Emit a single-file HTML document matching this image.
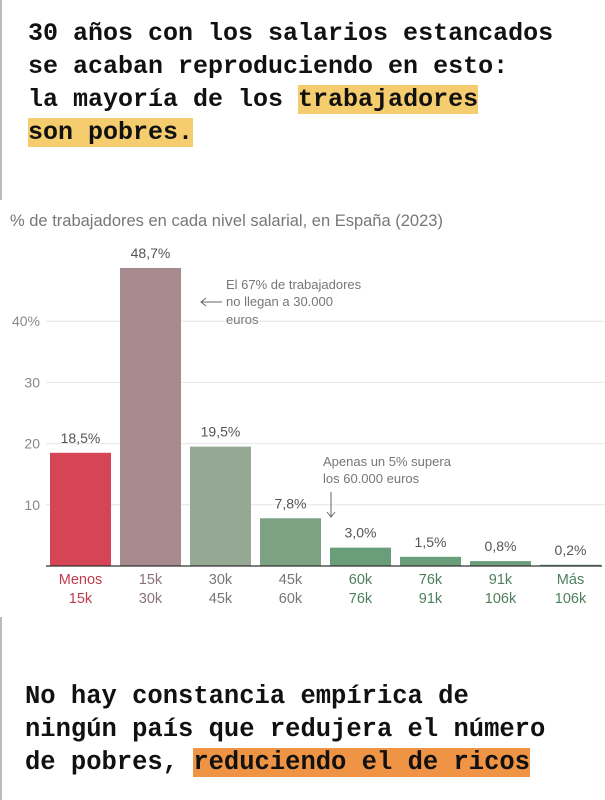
<!DOCTYPE html>
<html><head><meta charset="utf-8">
<style>
body{margin:0;width:605px;height:800px;background:#fff;position:relative;overflow:hidden;font-family:"Liberation Sans",sans-serif}
.big{position:absolute;font-family:"Liberation Mono",monospace;font-weight:bold;color:#111;white-space:pre}
.hy{background:#f5cd6e}
.ho{background:#ef9344}
</style></head>
<body>
<div style="position:absolute;left:0;top:0;width:2px;height:200px;background:#bbb"></div>
<div style="position:absolute;left:0;top:617px;width:2px;height:183px;background:#bbb"></div>
<div class="big" style="left:28px;top:17px;font-size:25px;line-height:33px">30 años con los salarios estancados
se acaban reproduciendo en esto:
la mayoría de los <span class="hy">trabajadores</span>
<span class="hy">son pobres.</span></div>
<div style="position:absolute;left:10px;top:212px;font-size:16.5px;color:#777">% de trabajadores en cada nivel salarial, en España (2023)</div>
<svg width="605" height="620" style="position:absolute;left:0;top:0" id="chart"></svg>
<div class="big" style="left:25px;top:680px;font-size:25.5px;line-height:33px">No hay constancia empírica de
ningún país que redujera el número
de pobres, <span class="ho">reduciendo el de ricos</span></div>
<script>
const categories1=["Menos","15k","30k","45k","60k","76k","91k","Más"];
const categories2=["15k","30k","45k","60k","76k","91k","106k","106k"];
const values=[18.5,48.7,19.5,7.8,3.0,1.5,0.8,0.2];
const valueLabels=["18,5%","48,7%","19,5%","7,8%","3,0%","1,5%","0,8%","0,2%"];
const ticks=[10,20,30,40];
const tickLabels=["10","20","30","40%"];
const barColors=["#d64555","#a68a8e","#94a893","#7ca283","#6a9d79","#6a9d79","#6a9d79","#5f9470"];
const labelColors=["#c23b4c","#8c7478","#777","#777","#4e7f5d","#4e7f5d","#4e7f5d","#4e7f5d"];
const NS="http://www.w3.org/2000/svg";
const svg=document.getElementById('chart');
const y0=566,pxPer=6.12,x0=50,step=70,bw=61;
const y=v=>y0-v*pxPer, x=i=>x0+i*step;
function mk(t,a,txt){const e=document.createElementNS(NS,t);for(const k in a)e.setAttribute(k,a[k]);if(txt!==undefined)e.textContent=txt;svg.appendChild(e);return e;}
ticks.forEach((t,i)=>{
 const g=mk('line',{x1:46,x2:605,y1:y(t),y2:y(t),stroke:'#e6e6e6','stroke-width':1});
 
 
 const l=mk('text',{x:40,y:y(t)+5,'text-anchor':'end','font-size':14,fill:'#888','font-family':'Liberation Sans'},tickLabels[i]);
 
 
});
values.forEach((v,i)=>{
 const b=mk('rect',{x:x(i),y:y(v),width:bw,height:y0-y(v),fill:barColors[i]});
 
 
 const t=mk('text',{x:x(i)+bw/2,y:y(v)-10,'text-anchor':'middle','font-size':14,fill:'#555','font-family':'Liberation Sans'},valueLabels[i]);
 
 
 const a=mk('text',{x:x(i)+bw/2,y:584,'text-anchor':'middle','font-size':14.5,fill:labelColors[i],'font-family':'Liberation Sans'},categories1[i]);
 
 
 const c=mk('text',{x:x(i)+bw/2,y:603,'text-anchor':'middle','font-size':14.5,fill:labelColors[i],'font-family':'Liberation Sans'},categories2[i]);
 
 
});
const ax=mk('line',{x1:46,x2:602,y1:y0,y2:y0,stroke:'#333','stroke-width':1.2});


const ann=[["El 67% de trabajadores",226,289],["no llegan a 30.000",226,306],["euros",226,324],["Apenas un 5% supera",323,466],["los 60.000 euros",323,483]];
ann.forEach(a=>{const t=mk('text',{x:a[1],y:a[2],'font-size':13,fill:'#777','font-family':'Liberation Sans'},a[0]);
 
 });
const a1=mk('path',{d:'M222 302 H201 M206 298 L201 302 L206 306',stroke:'#666',fill:'none','stroke-width':1});


const a2=mk('path',{d:'M331 492 V517 M327 512 L331 517 L335 512',stroke:'#666',fill:'none','stroke-width':1});


</script>
</body></html>
